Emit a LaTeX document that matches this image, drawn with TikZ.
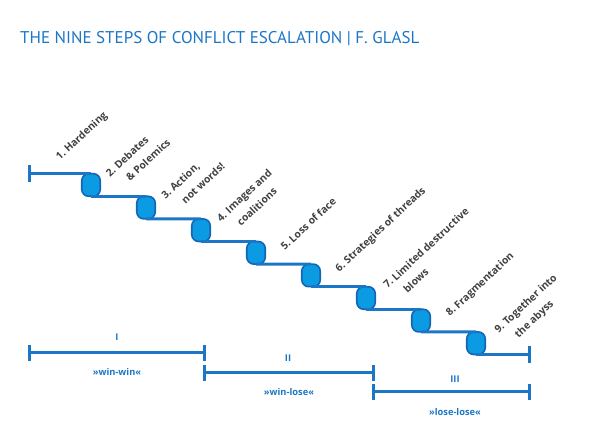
\documentclass[tikz,border=0pt]{standalone}
\usepackage{fontspec}
\setmainfont{Open Sans}
\newfontfamily\titlefont{PT Sans}
\usetikzlibrary{positioning}
\definecolor{stairblue}{HTML}{1C76C6}
\definecolor{knotfill}{HTML}{0A9BE2}
\definecolor{knotline}{HTML}{1565B5}
\definecolor{labelgray}{HTML}{404040}
\tikzset{
  stair/.style={line width=3pt, draw=stairblue},
  knot/.style={rectangle, rounded corners=7pt, draw=knotline, line width=1.6pt, fill=knotfill,
    minimum width=18.5pt, minimum height=22.6pt, inner sep=0pt, outer sep=0pt},
  steplabel/.style={rotate=43, anchor=west, inner sep=0pt, text=labelgray,
    font=\fontsize{10.3}{13}\selectfont\bfseries},
  phaselabel/.style={inner sep=0pt, text=stairblue, font=\fontsize{9.3}{11}\selectfont\bfseries}
}
\newcommand{\twolines}[3]{\renewcommand{\arraystretch}{1.3}\begin{tabular}{@{}l@{\ }l@{}}#1 & #2\\ & #3\end{tabular}}

\begin{document}
\begin{tikzpicture}[x=1pt, y=-1pt]
        \useasboundingbox (0,0) rectangle (600,446);
        % Title
        \node[anchor=base west, inner sep=0pt, text=stairblue, font=\titlefont\fontsize{17}{20}\selectfont] (title) at (20,43.5) {THE NINE STEPS OF CONFLICT ESCALATION | F. GLASL};

        % Staircase knots
        \node[knot] (k1) at (91,185) {};
        \node[knot] (k2) at (146,207.6) {};
        \node[knot] (k3) at (201,230.2) {};
        \node[knot] (k4) at (256,252.8) {};
        \node[knot] (k5) at (311,275.4) {};
        \node[knot] (k6) at (366,298) {};
        \node[knot] (k7) at (421,320.6) {};
        \node[knot] (k8) at (476,343.2) {};
        \coordinate (start) at (29,173.7);
        \coordinate (finish) at (529,354.5);

        % Staircase line
        \draw[stair] (start) -- (k1.north);
        \draw[stair] (k1.south) -- (k2.north);
        \draw[stair] (k2.south) -- (k3.north);
        \draw[stair] (k3.south) -- (k4.north);
        \draw[stair] (k4.south) -- (k5.north);
        \draw[stair] (k5.south) -- (k6.north);
        \draw[stair] (k6.south) -- (k7.north);
        \draw[stair] (k7.south) -- (k8.north);
        \draw[stair] (k8.south) -- (finish);
        \draw[stair] ([yshift=-8.5pt]start) -- ([yshift=8.5pt]start);
        \draw[stair] ([yshift=-8.5pt]finish) -- ([yshift=8.5pt]finish);

        % Step labels
        \node[steplabel] (s1) at (58,159) {1.\ Hardening};
        \node[steplabel] (s2) at (113.5,181.3) {\twolines{2.}{Debates}{\& Polemics}};
        \node[steplabel] (s3) at (169,203.6) {\twolines{3.}{Action,}{not words!}};
        \node[steplabel] (s4) at (224.5,225.9) {\twolines{4.}{Images and}{coalitions}};
        \node[steplabel] (s5) at (282,248.2) {5.\ Loss of face};
        \node[steplabel] (s6) at (337.5,270.5) {6.\ Strategies of threads};
        \node[steplabel] (s7) at (391,292.8) {\twolines{7.}{Limited destructive}{blows}};
        \node[steplabel] (s8) at (448,315.1) {8.\ Fragmentation};
        \node[steplabel] (s9) at (502,337.4) {\twolines{9.}{Together into}{the abyss}};

        % Phases
        \coordinate (ph1a) at (29,352.7);
        \coordinate (ph1b) at (204,352.7);
        \coordinate (ph2a) at (204,372.7);
        \coordinate (ph2b) at (373,372.7);
        \coordinate (ph3a) at (373,391.7);
        \coordinate (ph3b) at (529,391.7);
        \draw[stair] (ph1a) -- (ph1b);
        \draw[stair] (ph2a) -- (ph2b);
        \draw[stair] (ph3a) -- (ph3b);
        \foreach \p in {ph1a, ph1b, ph2a, ph2b, ph3a, ph3b}
          \draw[stair] ([yshift=-8pt]\p) -- ([yshift=8pt]\p);
        \node[phaselabel] (n1) at (117,337.5) {I};
        \node[phaselabel] (w1) at (117,372) {»win-win«};
        \node[phaselabel] (n2) at (288,358) {II};
        \node[phaselabel] (w2) at (289,392) {»win-lose«};
        \node[phaselabel] (n3) at (455,379) {III};
        \node[phaselabel] (w3) at (455,412) {»lose-lose«};

    \end{tikzpicture}
\end{document}
